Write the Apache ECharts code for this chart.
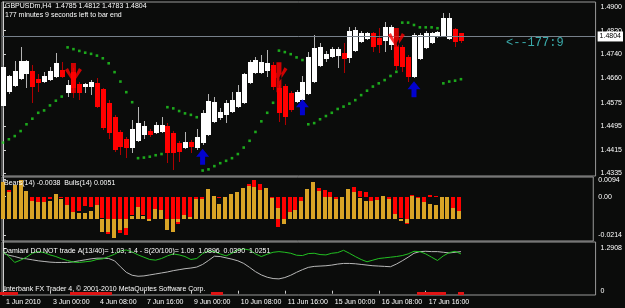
<!DOCTYPE html>
<html>
<head>
<meta charset="utf-8">
<script src="https://cdn.jsdelivr.net/npm/echarts@6/dist/echarts.min.js"></script>
<style>
html,body{margin:0;padding:0;background:#0b0c0b;}
#chart{width:625px;height:308px;}
</style>
</head>
<body>
<div id="chart"></div>
<script>
// GBPUSDm H4 candles (bar 0 = 1 Jun 16:00)
var opens  = [1.4564,1.4612,1.4632,1.4656,1.4673,1.4683,1.4656,1.4646,1.4652,1.4662,
              1.4686,1.4608,1.4679,1.4639,1.4629,1.4629,1.4642,1.4622,1.4574,1.4527,
              1.4476,1.4452,1.4422,1.4445,1.4466,1.4479,1.4472,1.4476,1.4496,1.4472,
              1.4439,1.4422,1.4442,1.4422,1.4439,1.4466,1.4510,1.4523,1.4534,1.4544,
              1.4561,1.4574,1.4642,1.4676,1.4676,1.4683,1.4703,1.4625,1.4632,1.4608,
              1.4578,1.4584,1.4605,1.4646,1.4700,1.4724,1.4730,1.4734,1.4744,1.4727,
              1.4751,1.4781,1.4791,1.4812,1.4795,1.4785,1.4771,1.4764,1.4764,1.4730,
              1.4662,1.4724,1.4761,1.4778,1.4798,1.4802,1.4791,1.4825,1.4812];
var closes = [1.4696,1.4666,1.4683,1.4717,1.4717,1.4629,1.4642,1.4666,1.4683,1.4710,
              1.4662,1.4635,1.4625,1.4608,1.4639,1.4646,1.4561,1.4489,1.4472,1.4415,
              1.4425,1.4422,1.4486,1.4506,1.4496,1.4466,1.4500,1.4500,1.4405,1.4405,
              1.4408,1.4442,1.4425,1.4459,1.4540,1.4581,1.4578,1.4544,1.4574,1.4584,
              1.4612,1.4673,1.4713,1.4720,1.4713,1.4710,1.4629,1.4540,1.4527,1.4551,
              1.4612,1.4646,1.4730,1.4761,1.4764,1.4741,1.4758,1.4758,1.4724,1.4819,
              1.4822,1.4812,1.4812,1.4764,1.4771,1.4832,1.4832,1.4700,1.4696,1.4662,
              1.4805,1.4805,1.4812,1.4812,1.4815,1.4863,1.4863,1.4781,1.4783];
var highs  = [1.4703,1.4669,1.4717,1.4764,1.4720,1.4703,1.4673,1.4679,1.4696,1.4744,
              1.4713,1.4652,1.4693,1.4646,1.4642,1.4652,1.4659,1.4625,1.4584,1.4534,
              1.4483,1.4459,1.4517,1.4561,1.4513,1.4486,1.4510,1.4527,1.4506,1.4479,
              1.4445,1.4476,1.4449,1.4486,1.4551,1.4605,1.4595,1.4557,1.4584,1.4612,
              1.4635,1.4676,1.4720,1.4730,1.4737,1.4754,1.4713,1.4635,1.4639,1.4615,
              1.4618,1.4666,1.4747,1.4805,1.4778,1.4751,1.4764,1.4764,1.4778,1.4832,
              1.4832,1.4819,1.4815,1.4815,1.4829,1.4849,1.4839,1.4771,1.4771,1.4737,
              1.4812,1.4812,1.4819,1.4815,1.4819,1.4880,1.4880,1.4829,1.4812];
var lows   = [1.4557,1.4605,1.4629,1.4652,1.4625,1.4574,1.4612,1.4642,1.4649,1.4659,
              1.4659,1.4595,1.4591,1.4584,1.4608,1.4601,1.4557,1.4483,1.4452,1.4408,
              1.4398,1.4388,1.4405,1.4442,1.4452,1.4459,1.4469,1.4472,1.4371,1.4347,
              1.4374,1.4418,1.4405,1.4415,1.4432,1.4462,1.4506,1.4517,1.4506,1.4540,
              1.4557,1.4571,1.4639,1.4673,1.4673,1.4662,1.4618,1.4510,1.4500,1.4544,
              1.4574,1.4581,1.4601,1.4642,1.4696,1.4713,1.4727,1.4693,1.4676,1.4710,
              1.4747,1.4778,1.4788,1.4747,1.4744,1.4747,1.4754,1.4686,1.4679,1.4646,
              1.4659,1.4720,1.4758,1.4774,1.4795,1.4798,1.4788,1.4764,1.4778];
// Parabolic SAR
var sar = [1.4440,1.4451,1.4462,1.4479,1.4502,1.4521,1.4541,1.4549,1.4566,1.4582,
           1.4596,1.4763,1.4757,1.4751,1.4745,1.4741,1.4735,1.4726,1.4709,1.4679,
           1.4647,1.4611,1.4577,1.4387,1.4389,1.4392,1.4397,1.4401,1.4560,1.4556,
           1.4547,1.4539,1.4534,1.4526,1.4345,1.4349,1.4360,1.4370,1.4378,1.4387,
           1.4401,1.4423,1.4446,1.4476,1.4512,1.4541,1.4575,1.4752,1.4747,1.4740,
           1.4729,1.4720,1.4502,1.4506,1.4519,1.4530,1.4541,1.4554,1.4562,1.4572,
           1.4584,1.4601,1.4616,1.4630,1.4641,1.4652,1.4666,1.4680,1.4847,1.4847,
           1.4839,1.4831,1.4831,1.4831,1.4828,1.4641,1.4647,1.4650,1.4655];
// signal arrows
var sellBars = [12, 47, 67];
var sellPrices = [1.4659, 1.4662, 1.4778];
var buyBars = [34, 51, 70];
var buyPrices = [1.4392, 1.4560, 1.4621];
var bid = 1.4804;

// Bears / Bulls power
var bears = [0.0009,0.0037,0.0028,0.0046,0.0009,-0.0024,-0.0028,-0.0028,-0.0013,0.0006,
             0,-0.0046,-0.0083,-0.0080,-0.0050,-0.0056,-0.0046,-0.0120,-0.0209,-0.0139,
             -0.0204,-0.0213,-0.0102,-0.0056,-0.0102,-0.0130,-0.0070,-0.0074,-0.0130,-0.0198,
             -0.0154,-0.0102,-0.0115,-0.0013,-0.0013,0.0009,0,-0.0009,0,0.0006,
             0.0009,0.0028,0.0068,0.0093,0.0068,0.0028,-0.0009,-0.0167,-0.0130,-0.0083,
             -0.0074,-0.0024,0.0019,0.0046,0.0050,0.0037,0.0028,-0.0013,0,0.0019,
             0.0056,0.0031,0.0028,-0.0024,-0.0019,0.0006,-0.0013,-0.0098,-0.0120,-0.0152,
             0.0009,-0.0009,-0.0028,0.0009,0.0004,0,0,-0.0061,-0.0078];
var bulls = [0.0205,0.0154,0.0191,0.0218,0.0157,0.0102,0.0098,0.0098,0.0104,0.0139,
             0.0113,0.0080,0.0043,0.0037,0.0033,0.0048,0.0080,-0.0068,-0.0068,-0.0105,
             -0.0059,-0.0050,0.0020,0.0070,0.0020,-0.0007,0.0056,0.0052,-0.0059,-0.0068,
             -0.0013,0.0024,0.0011,0.0113,0.0113,0.0167,0.0131,0.0083,0.0126,0.0139,
             0.0150,0.0176,0.0187,0.0181,0.0163,0.0176,0.0117,0.0065,-0.0028,0.0043,
             0.0052,0.0102,0.0168,0.0209,0.0157,0.0126,0.0126,0.0113,0.0126,0.0168,
             0.0154,0.0120,0.0102,0.0102,0.0107,0.0131,0.0113,0.0028,-0.0007,-0.0022,
             0.0130,0.0117,0.0098,0.0087,0.0080,0.0126,0.0126,0.0065,0.0048];

// Damiani volatmeter
var damGreen = [1.19,1.04,0.86,0.93,1.02,1.14,1.19,1.16,1.09,1.04,
                0.97,0.92,0.87,0.86,0.88,0.90,0.95,0.97,1.04,1.11,
                1.21,1.24,1.18,1.09,1.02,0.95,0.93,0.98,1.06,1.12,
                1.09,1.04,0.95,0.98,1.13,1.21,1.19,1.12,1.06,1.14,
                1.24,1.27,1.24,1.12,1.04,1.11,1.17,1.19,1.17,1.14,
                1.08,1.07,1.13,1.14,1.10,1.09,1.14,1.16,1.23,1.14,
                1.04,0.95,0.88,0.93,0.98,1.00,1.02,1.04,1.07,1.12,
                1.20,1.19,1.12,1.02,0.92,1.06,1.16,1.20,1.12];
var damGray = [1.14,1.08,1.04,0.99,0.97,0.94,0.91,0.89,0.87,0.86,
               0.86,0.86,0.88,0.91,0.94,0.97,0.99,0.99,0.98,0.91,
               0.73,0.56,0.47,0.44,0.45,0.48,0.51,0.54,0.57,0.61,
               0.64,0.67,0.69,0.72,0.80,0.92,1.05,1.04,1.00,0.96,
               0.91,0.83,0.71,0.58,0.48,0.41,0.37,0.36,0.40,0.47,
               0.56,0.64,0.71,0.74,0.75,0.76,0.78,0.81,0.83,0.83,
               0.82,0.80,0.78,0.76,0.75,0.74,0.73,0.81,0.91,1.02,
               1.14,1.19,1.20,1.19,1.19,1.17,1.15,1.17,1.19];
var noTradeBars = [0,1,2,12,13,14,15,16,17,18,36,37,71,72,73,74,75,78];
var noTradeValue = -0.09;

// axis ticks
var timeTickBars = [0, 8, 16, 24, 32, 40, 48, 56, 64, 72];
var timeLabels = ['1 Jun 2010','3 Jun 00:00','4 Jun 08:00','7 Jun 16:00','9 Jun 00:00',
                  '10 Jun 08:00','11 Jun 16:00','15 Jun 00:00','16 Jun 08:00','17 Jun 16:00'];
var priceTicks = [1.4900, 1.4820, 1.4740, 1.4660, 1.4575, 1.4495, 1.4415, 1.4335];
var bbTicks = [0.0094, 0, -0.0214];
var damTicks = [1.2908, 0];

var X_MIN = -0.17, X_MAX = 100.93;
var BULLS_BASE = -0.0126;
var FONT = '"Liberation Sans", Arial, sans-serif';

var myChart = echarts.init(document.getElementById('chart'), null, {renderer: 'canvas'});

var candleData = opens.map(function (o, i) { return [i, o, closes[i], lows[i], highs[i]]; });
var sarData = sar.map(function (v, i) { return [i, v]; });
var bearsData = bears.map(function (v, i) { return [i, v]; });
var bullsData = bulls.map(function (v, i) { return [i, v]; });
var greenData = damGreen.map(function (v, i) { return [i, v]; });
var grayData = damGray.map(function (v, i) { return [i, v]; });
var noTradeData = noTradeBars.map(function (b) { return [b, noTradeValue]; });

// candle: 1px wick + 5px body, snapped to whole pixels
function renderCandle(params, api) {
    var i = api.value(0);
    var o = api.value(1), c = api.value(2), l = api.value(3), h = api.value(4);
    var po = api.coord([i, o]), pc = api.coord([i, c]);
    var yl = Math.round(api.coord([i, l])[1]), yh = Math.round(api.coord([i, h])[1]);
    var cx = Math.round(po[0]);
    var bull = c >= o;
    var top = Math.round(Math.min(po[1], pc[1])), bot = Math.round(Math.max(po[1], pc[1]));
    return {
        type: 'group',
        children: [
            {type: 'rect', shape: {x: cx, y: yh, width: 1, height: yl - yh},
             style: {fill: bull ? '#b4b4b4' : '#b00000'}},
            {type: 'rect', shape: {x: cx - 2, y: top, width: 5, height: Math.max(1, bot - top)},
             style: {fill: bull ? '#ffffff' : '#ff0000'}}
        ]
    };
}

// histogram bar from base to base+value
function histRender(color, base) {
    return function (params, api) {
        var i = api.value(0);
        var v = api.value(1);
        var p0 = api.coord([i, base]);
        var p1 = api.coord([i, base + v]);
        var cx = Math.round(p0[0]);
        var y0 = Math.round(p0[1]), y1 = Math.round(p1[1]);
        return {
            type: 'rect',
            shape: {x: cx - 2, y: Math.min(y0, y1), width: 4, height: Math.max(1, Math.abs(y1 - y0))},
            style: {fill: color}
        };
    };
}

function noTradeRender(params, api) {
    var i = api.value(0);
    var p0 = api.coord([i, 0]), p1 = api.coord([i, api.value(1)]);
    var cx = Math.round(p0[0]);
    return {
        type: 'rect',
        shape: {x: cx - 3, y: Math.round(p0[1]) + 1, width: 6, height: Math.round(p1[1] - p0[1])},
        style: {fill: '#e01414'}
    };
}

var sellSymbol = 'path://M6,0L11,0L11,30L6,30ZM0,7L3,5L8,15L8,19ZM17,7L14,5L9,15L9,19Z';
var buySymbol = 'path://M6.5,0L13,8L9,8L9,16L4,16L4,8L0,8Z';

function yAxisBase(grid, min, max, ticks, fmt) {
    return {
        gridIndex: grid,
        type: 'value',
        position: 'right',
        min: min,
        max: max,
        axisLine: {show: true, lineStyle: {color: '#d0d0d0', width: 1}},
        axisTick: {show: true, inside: false, length: 3, customValues: ticks,
                   lineStyle: {color: '#d0d0d0'}},
        axisLabel: {customValues: ticks, formatter: fmt, color: '#ffffff',
                    fontSize: 7, fontFamily: FONT, margin: 5},
        splitLine: {show: false}
    };
}

var gridStyle = {show: true, borderColor: '#9a9a9a', borderWidth: 1, backgroundColor: 'transparent'};

var option = {
    backgroundColor: '#0b0c0b',
    animation: false,
    grid: [
        echarts.util.extend({left: 2, top: 2, width: 595, height: 174}, gridStyle),
        echarts.util.extend({left: 2, top: 177, width: 595, height: 64}, gridStyle),
        echarts.util.extend({left: 2, top: 242, width: 595, height: 53}, gridStyle)
    ],
    xAxis: [
        {gridIndex: 0, type: 'value', min: X_MIN, max: X_MAX, show: false},
        {gridIndex: 1, type: 'value', min: X_MIN, max: X_MAX, show: false},
        {
            gridIndex: 2, type: 'value', min: X_MIN, max: X_MAX,
            axisLine: {show: false},
            splitLine: {show: false},
            axisTick: {show: true, length: 3, customValues: timeTickBars,
                       lineStyle: {color: '#d0d0d0'}},
            axisLabel: {
                customValues: timeTickBars,
                formatter: function (v) { return timeLabels[timeTickBars.indexOf(Math.round(v))] || ''; },
                color: '#ffffff', fontSize: 7, fontFamily: FONT, align: 'left',
                margin: 4, padding: [0, 0, 0, 3]
            }
        }
    ],
    yAxis: [
        yAxisBase(0, 1.43265, 1.49170, priceTicks, function (v) { return v.toFixed(4); }),
        yAxisBase(1, -0.024603, 0.010917, bbTicks, function (v) { return v === 0 ? '0.00' : v.toFixed(4); }),
        yAxisBase(2, -0.1309, 1.4826, damTicks, function (v) { return v === 0 ? '0' : v.toFixed(4); })
    ],
    series: [
        {
            name: 'GBPUSDm',
            type: 'custom',
            xAxisIndex: 0, yAxisIndex: 0,
            renderItem: renderCandle,
            encode: {x: 0, y: [1, 2, 3, 4]},
            data: candleData,
            z: 3
        },
        {
            name: 'SAR',
            type: 'scatter',
            xAxisIndex: 0, yAxisIndex: 0,
            symbol: 'rect',
            symbolSize: 2.6,
            itemStyle: {color: '#20d020'},
            data: sarData,
            z: 4,
            markLine: {
                silent: true,
                symbol: 'none',
                lineStyle: {color: '#77808a', width: 1, type: 'solid'},
                label: {
                    show: true, position: 'end', distance: 2,
                    formatter: function () { return bid.toFixed(4); },
                    backgroundColor: '#ffffff', color: '#000000',
                    fontSize: 7, fontFamily: FONT, padding: [2, 2, 1, 2]
                },
                data: [{yAxis: bid}]
            }
        },
        {
            name: 'Sell',
            type: 'scatter',
            xAxisIndex: 0, yAxisIndex: 0,
            symbol: sellSymbol,
            symbolSize: [17, 30],
            itemStyle: {color: '#ff0000'},
            data: sellBars.map(function (b, k) { return [b, sellPrices[k]]; }),
            z: 5
        },
        {
            name: 'Buy',
            type: 'scatter',
            xAxisIndex: 0, yAxisIndex: 0,
            symbol: buySymbol,
            symbolSize: [13, 16],
            itemStyle: {color: '#0000ff'},
            data: buyBars.map(function (b, k) { return [b, buyPrices[k]]; }),
            z: 5
        },
        {
            name: 'Bears',
            type: 'custom',
            xAxisIndex: 1, yAxisIndex: 1,
            renderItem: histRender('#ff0000', 0),
            encode: {x: 0, y: 1},
            data: bearsData,
            z: 2
        },
        {
            name: 'Bulls',
            type: 'custom',
            xAxisIndex: 1, yAxisIndex: 1,
            renderItem: histRender('#d9a426', BULLS_BASE),
            encode: {x: 0, y: 1},
            data: bullsData,
            z: 3
        },
        {
            name: 'Damiani V',
            type: 'line',
            xAxisIndex: 2, yAxisIndex: 2,
            showSymbol: false,
            lineStyle: {color: '#22c022', width: 1},
            data: greenData,
            z: 3
        },
        {
            name: 'Damiani S',
            type: 'line',
            xAxisIndex: 2, yAxisIndex: 2,
            showSymbol: false,
            lineStyle: {color: '#b8b8b8', width: 1},
            data: grayData,
            z: 2
        },
        {
            name: 'No trade',
            type: 'custom',
            xAxisIndex: 2, yAxisIndex: 2,
            renderItem: noTradeRender,
            encode: {x: 0, y: 1},
            data: noTradeData,
            z: 2
        }
    ],
    graphic: [
        {type: 'text', left: 5, top: 3, z: 100,
         style: {text: 'GBPUSDm,H4  1.4785 1.4812 1.4783 1.4804', fill: '#ffffff', fontSize: 7, fontFamily: FONT}},
        {type: 'text', left: 5, top: 12, z: 100,
         style: {text: '177 minutes 9 seconds left to bar end', fill: '#ffffff', fontSize: 7, fontFamily: FONT}},
        {type: 'text', left: 506, top: 37, z: 100,
         style: {text: '<--177:9', fill: '#3aa9a9', fontSize: 12, fontFamily: '"Liberation Mono", "DejaVu Sans Mono", monospace'}},
        {type: 'text', left: 4, top: 180, z: 100,
         style: {text: 'Bears(14) -0.0038  Bulls(14) 0.0051', fill: '#ffffff', fontSize: 7, fontFamily: FONT}},
        {type: 'text', left: 3, top: 248, z: 100,
         style: {text: 'Damiani DO NOT trade A(13/40)= 1.03, 1.4 - S(20/100)= 1.09  1.0896  0.0390  1.0251', fill: '#ffffff', fontSize: 7, fontFamily: FONT}},
        {type: 'text', left: 4, top: 286, z: 100,
         style: {text: 'Interbank FX Trader 4, \u00a9 2001-2010 MetaQuotes Software Corp.', fill: '#ffffff', fontSize: 7, fontFamily: FONT}}
    ]
};

myChart.setOption(option);
</script>
</body>
</html>
